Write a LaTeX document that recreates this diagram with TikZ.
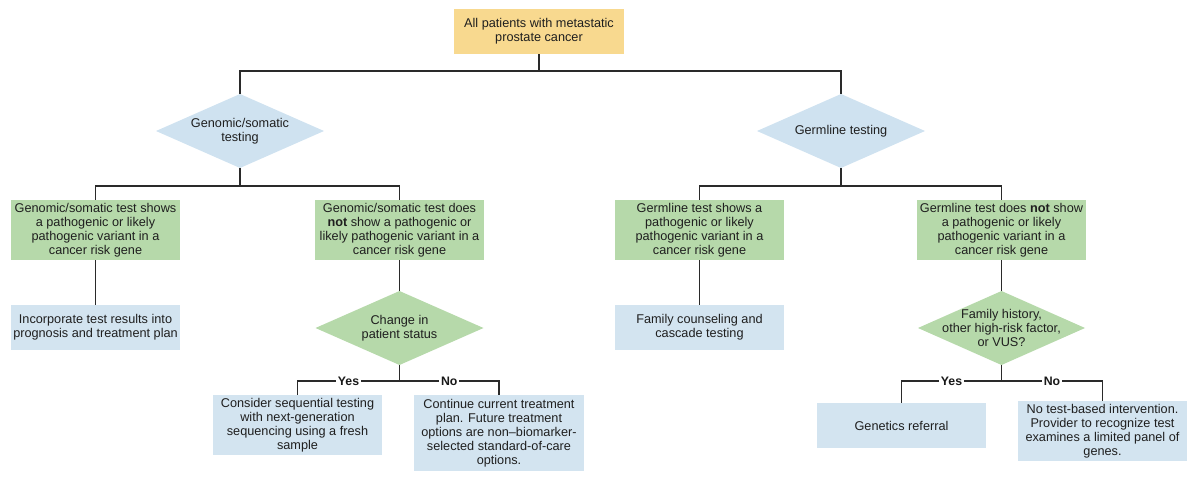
\documentclass[tikz,border=0pt]{standalone}
\usepackage{fontspec}
\setmainfont{Liberation Sans}
\usetikzlibrary{calc}
\definecolor{cyel}{HTML}{F8D98F}
\definecolor{cgreen}{HTML}{B6D9AA}
\definecolor{cblue}{HTML}{D3E4F0}
\definecolor{cdia}{HTML}{CFE2F0}
\definecolor{cline}{HTML}{2A2A2A}
\newcommand{\fs}{\fontsize{12.7}{14}\selectfont}
\begin{document}
\begin{tikzpicture}[x=1pt,y=-1pt,
  box/.style={rectangle, inner sep=0pt, align=center, font=\fs, text=black!88, minimum width=169, minimum height=45},
  gbox/.style={box, fill=cgreen, minimum height=60},
  bbox/.style={box, fill=cblue},
  dia/.style={rectangle, inner sep=0pt, align=center, font=\fs, text=black!88, minimum width=168, minimum height=74,
    path picture={\fill[#1] (path picture bounding box.west) -- (path picture bounding box.north) -- (path picture bounding box.east) -- (path picture bounding box.south) -- cycle;}},
  conn/.style={draw=cline, line width=1.9pt},
  lab/.style={fill=white, inner sep=2pt, font=\fontsize{12.3}{14}\selectfont\bfseries, text=black!90}
]
\useasboundingbox (0,0) rectangle (1200,481);

\node[box, fill=cyel, minimum width=170] (top) at (539,31.5) {All patients with metastatic\\prostate cancer};

\node[dia=cdia] (d1) at (240,131) {Genomic/somatic\\testing};
\node[dia=cdia] (d2) at (841,131) {Germline testing};

\node[gbox] (g1) at (95.5,230) {Genomic/somatic test shows\\a pathogenic or likely\\pathogenic variant in a\\cancer risk gene};
\node[gbox] (g2) at (399.5,230) {Genomic/somatic test does\\\textbf{not} show a pathogenic or\\likely pathogenic variant in a\\cancer risk gene};
\node[gbox] (g3) at (699.5,230) {Germline test shows a\\pathogenic or likely\\pathogenic variant in a\\cancer risk gene};
\node[gbox] (g4) at (1001.5,230) {Germline test does \textbf{not} show\\a pathogenic or likely\\pathogenic variant in a\\cancer risk gene};

\node[bbox] (b1) at (95.5,327.5) {Incorporate test results into\\prognosis and treatment plan};
\node[bbox] (b2) at (699.5,327.5) {Family counseling and\\cascade testing};

\node[dia=cgreen] (c1) at (399.5,328) {Change in\\patient status};
\node[dia=cgreen, minimum width=167] (c2) at (1001.5,328) {Family history,\\other high-risk factor,\\or VUS?};

\node[bbox, minimum height=60] (s1) at (297.5,425) {Consider sequential testing\\with next-generation\\sequencing using a fresh\\sample};
\node[bbox, minimum height=76, minimum width=170] (s2) at (499,433) {Continue current treatment\\plan. Future treatment\\options are non–biomarker-\\selected standard-of-care\\options.};
\node[bbox] (s3) at (901.5,425.5) {Genetics referral};
\node[bbox, minimum height=60] (s4) at (1102.5,431) {No test-based intervention.\\Provider to recognize test\\examines a limited panel of\\genes.};

% connectors
\draw[conn] (top.south) -- ++(0,17) coordinate (j1);
\draw[conn] (d1.north) |- (j1) -| (d2.north);

\draw[conn] (d1.south) -- ++(0,18) coordinate (j2);
\draw[conn] (g1.north) |- (j2) -| (g2.north);

\draw[conn] (d2.south) -- ++(0,18) coordinate (j3);
\draw[conn] (g3.north) |- (j3) -| (g4.north);

\draw[conn] (g1.south) -- (b1.north);
\draw[conn] (g2.south) -- (c1.north);
\draw[conn] (g3.south) -- (b2.north);
\draw[conn] (g4.south) -- (c2.north);

\draw[conn] (c1.south) -- ++(0,16) coordinate (j4);
\draw[conn] (s1.north) |- node[pos=.75, lab] {Yes} (j4) -| node[pos=.25, lab] {No} (s2.north);

\draw[conn] (c2.south) -- ++(0,16) coordinate (j5);
\draw[conn] (s3.north) |- node[pos=.75, lab] {Yes} (j5) -| node[pos=.25, lab] {No} (s4.north);
\end{tikzpicture}
\end{document}
